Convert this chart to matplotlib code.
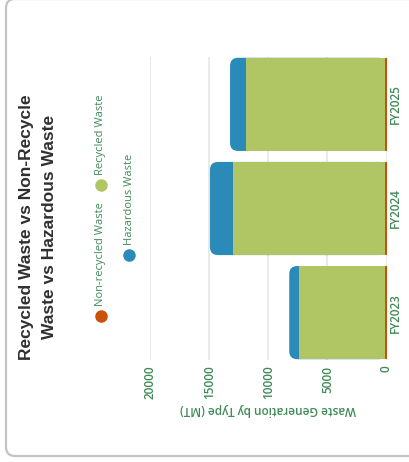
import numpy as np
import matplotlib.pyplot as plt
from matplotlib.patches import FancyBboxPatch
from matplotlib.lines import Line2D

# waste generation by type (MT)
years = ['FY2023', 'FY2024', 'FY2025']
non_recycled = [130, 150, 140]
recycled = [7250, 12860, 11740]
hazardous = [845, 1920, 1350]

c_non = '#c95109'
c_rec = '#b0c564'
c_haz = '#2b8bb8'
c_txt = '#3f8b57'

W, H = 409, 462
fig = plt.figure(figsize=(W / 100, H / 100), dpi=100)

# card outline
card = FancyBboxPatch((6 / W, 6 / H), 1.2, 1 + 1.0 / H - 6 / H,
                      boxstyle='round,pad=0,rounding_size=0.022',
                      transform=fig.transFigure, fc='white', ec='#c3c3c3', lw=1.6,
                      mutation_aspect=W / H, zorder=-5)
fig.add_artist(card)

ax = fig.add_axes([150 / W, (H - 360) / H, 236.5 / W, 303 / H])
ax.set_facecolor('none')

y = np.arange(len(years))
nr = np.array(non_recycled)
rc = np.array(recycled)
hz = np.array(hazardous)
bh = 0.895

# hazardous on top of the stack, with rounded end
rx = 680
ry_units = 8 / 104.25
for yi, tot in zip(y, nr + rc + hz):
    p = FancyBboxPatch((0, yi - bh / 2), tot, bh,
                       boxstyle=f'round,pad=0,rounding_size={rx}',
                       mutation_aspect=ry_units / rx,
                       fc=c_haz, ec='none', zorder=2)
    ax.add_patch(p)
ax.barh(y, rc, left=nr, height=bh, color=c_rec, zorder=3)
ax.barh(y, nr, height=bh, color=c_non, zorder=4)

ax.set_xlim(20000, 0)
ax.set_ylim(-0.455, 2.455)
ax.set_xticks([0, 5000, 10000, 15000, 20000])
ax.grid(axis='x', color='#dfe6e0', lw=1.1, zorder=0)
ax.set_axisbelow(True)
for s in ax.spines.values():
    s.set_visible(False)
ax.tick_params(length=0)
ax.set_xticklabels(['0', '5000', '10000', '15000', '20000'], rotation=90,
                   color=c_txt, fontsize=8.5, family='Open Sans', fontweight='semibold')
ax.tick_params(axis='x', pad=4)
ax.yaxis.tick_right()
ax.set_yticks(y)
ax.set_yticklabels(years, rotation=90, va='center', color=c_txt, fontsize=8.5,
                   family='Open Sans', fontweight='semibold')
ax.tick_params(axis='y', pad=2)
ax.set_xlabel('Waste Generation by Type (MT)', rotation=180, color=c_txt,
              fontsize=8.5, family='Open Sans', fontweight='semibold', labelpad=3)

# title
fig.text(38 / W, 1 - 227 / H, 'Recycled Waste vs Non-Recycle\nWaste vs Hazardous Waste',
         rotation=90, ha='center', va='center', multialignment='center',
         fontsize=12.5, fontweight='bold', family='Liberation Sans', color='#2f2f2f',
         linespacing=1.6)

# legend
legend_items = [('Non-recycled Waste', c_non, 101, 316),
                ('Recycled Waste', c_rec, 101, 185),
                ('Hazardous Waste', c_haz, 129, 255)]
for label, col, lx, ly in legend_items:
    fig.add_artist(Line2D([lx / W], [1 - ly / H], marker='o', ms=8, color=col,
                          transform=fig.transFigure))
    fig.text(lx / W, 1 - (ly - 10) / H, label, rotation=90, ha='center', va='bottom',
             color=c_txt, fontsize=8, family='Open Sans')

fig.savefig('out.png', dpi=100)
